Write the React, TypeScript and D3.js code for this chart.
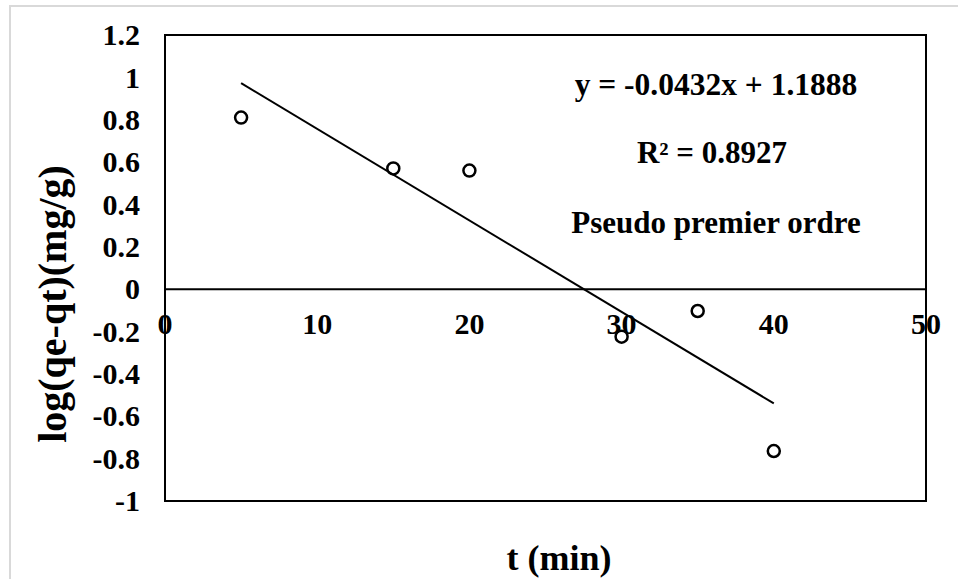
import React from "react";
import * as d3 from "d3";

const tValues = [5, 15, 20, 30, 35, 40];
const logValues = [0.81, 0.57, 0.56, -0.224, -0.103, -0.764];
const xTicks = [0, 10, 20, 30, 40, 50];
const yTicks = [1.2, 1, 0.8, 0.6, 0.4, 0.2, 0, -0.2, -0.4, -0.6, -0.8, -1];
const slope = -0.0432;
const intercept = 1.1888;
const fitRange = [5, 40];
const equationText = "y = -0.0432x + 1.1888";
const r2Value = "0.8927";
const modelLabel = "Pseudo premier ordre";
const xTitle = "t (min)";
const yTitle = "log(qe-qt)(mg/g)";

const W = 958;
const H = 579;
const plot = { left: 165, right: 926, top: 35, bottom: 501 };
const FONT = "'Liberation Serif', 'Times New Roman', serif";

export default function App() {
  const x = d3.scaleLinear().domain([0, 50]).range([plot.left, plot.right]);
  const y = d3.scaleLinear().domain([-1, 1.2]).range([plot.bottom, plot.top]);
  const pts = tValues.map((t, i) => ({ t, v: logValues[i] }));
  const fitLine = d3
    .line<number>()
    .x((d) => x(d))
    .y((d) => y(slope * d + intercept));

  return (
    <svg
      width={W}
      height={H}
      style={{ position: "absolute", left: 0, top: 0, background: "#fff" }}
      fontFamily={FONT}
      fontWeight="bold"
    >
      <rect x={0} y={0} width={W} height={H} fill="#fff" />
      {/* outer chart border */}
      <rect x={10} y={6} width={W + 20} height={H + 20} fill="none" stroke="#d9d9d9" strokeWidth={2} />
      {/* plot area */}
      <rect
        x={plot.left}
        y={plot.top}
        width={plot.right - plot.left}
        height={plot.bottom - plot.top}
        fill="#fff"
        stroke="#000"
        strokeWidth={2}
      />
      {/* zero line */}
      <line x1={plot.left} x2={plot.right} y1={y(0)} y2={y(0)} stroke="#000" strokeWidth={2} />
      {/* y tick labels */}
      {yTicks.map((v) => (
        <text key={"y" + v} x={140} y={y(v)} dy="0.34em" textAnchor="end" fontSize={30}>
          {String(v)}
        </text>
      ))}
      {/* x tick labels */}
      {xTicks.map((v) => (
        <text key={"x" + v} x={x(v)} y={y(0) + 45} textAnchor="middle" fontSize={30}>
          {String(v)}
        </text>
      ))}
      {/* trendline */}
      <path d={fitLine(fitRange) || ""} fill="none" stroke="#000" strokeWidth={2} />
      {/* points */}
      {pts.map((p) => (
        <circle key={p.t} cx={x(p.t)} cy={y(p.v)} r={6} fill="none" stroke="#000" strokeWidth={2.5} />
      ))}
      {/* annotations */}
      <text x={716} y={95} textAnchor="middle" fontSize={31.5}>
        {equationText}
      </text>
      <text x={712} y={163} textAnchor="middle" fontSize={31}>
        R² = {r2Value}
      </text>
      <text x={716} y={233} textAnchor="middle" fontSize={31}>
        {modelLabel}
      </text>
      {/* axis titles */}
      <text x={559} y={570} textAnchor="middle" fontSize={36}>
        {xTitle}
      </text>
      <text
        transform={`translate(66, 304) rotate(-90)`}
        textAnchor="middle"
        fontSize={40}
      >
        {yTitle}
      </text>
    </svg>
  );
}
